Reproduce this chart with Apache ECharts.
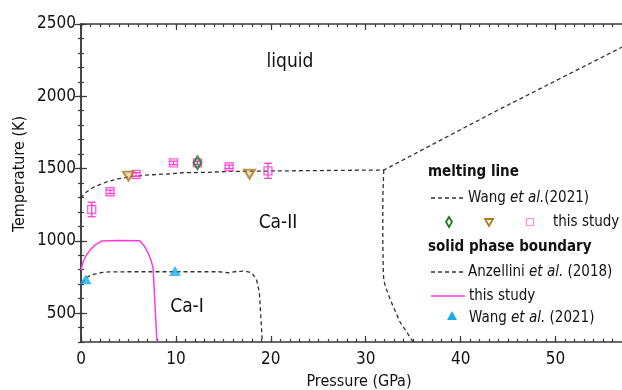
<!DOCTYPE html>
<html><head><meta charset="utf-8">
<script src="https://cdn.jsdelivr.net/npm/echarts@6/dist/echarts.min.js"></script>
<style>html,body{margin:0;padding:0;background:#fff}#c{width:622px;height:390px}</style>
</head><body><div id="c"></div>
<script>
// ---------- data ----------
const xMajorTicks = [0, 10, 20, 30, 40, 50];
const xMinorTicks = [0,1,2,3,4,5,6,7,8,9,10,11,12,13,14,15,16,17,18,19,20,21,22,23,24,25,26,27,28,29,30,31,32,33,34,35,36,37,38,39,40,41,42,43,44,45,46,47,48,49,50,51,52,53,54,55,56,57];
const yMajorTicks = [500, 1000, 1500, 2000, 2500];
const yMinorTicks = [300,400,500,600,700,800,900,1000,1100,1200,1300,1400,1500,1600,1700,1800,1900,2000,2100,2200,2300,2400,2500];

// melting line, Wang et al. (2021)
const meltWang = [[0,1295],[0.4,1330],[1.3,1370],[2.7,1408],[4,1430],[5.2,1443],[6.9,1455],[9,1462],[11,1472],[13,1473],[15.6,1480],[20,1483],[25,1486],[31.9,1490],[32.5,1510],[43.5,1890],[57,2340]];
// solid phase boundary, Anzellini et al. (2018): Ca-I / Ca-II
const anzI = [[0.1,708],[0.5,740],[1,762],[2,779],[3,785],[5,786],[10,786],[14.5,786],[15.5,779],[16.5,789],[17.3,790],[18,779],[18.5,729],[18.8,640],[19.05,360],[19.1,300]];
// solid phase boundary, Anzellini et al. (2018): Ca-II / Ca-III
const anzII = [[31.9,1490],[31.8,1300],[31.8,1000],[31.85,800],[31.9,728],[32.1,680],[32.6,590],[33.6,440],[35.0,300]];
// solid phase boundary, this study
const pinkBoundary = [[0,798],[0.2,850],[0.5,895],[0.95,936],[1.5,972],[2.2,999],[4,1003],[6.2,1000],[6.7,960],[7.07,916],[7.4,860],[7.6,812],[7.8,550],[8.0,300]];
// solid phase boundary points, Wang et al. (2021)
const wangSolidP = [0.5, 9.9];
const wangSolidT = [734, 791];
// melting points, this study (squares)
const meltStudyP = [1.13, 3.06, 5.8, 9.74, 12.27, 15.6, 19.7];
const meltStudyT = [1217, 1339, 1459, 1539, 1539, 1512, 1484];
const meltStudyErr = [50, 12, 12, 12, 12, 12, 52];
// melting points, brown inverted triangles
const meltBrownP = [5.0, 17.75];
const meltBrownT = [1447, 1461];
// melting points, green diamond
const meltGreenP = [12.27];
const meltGreenT = [1540];

// ---------- style ----------
const FONT = "'DejaVu Sans Condensed','Liberation Sans Narrow',sans-serif";
const AX = '#3a3a3a';
const PINK = '#ff3cd6';
const BROWN = '#b07a1e';
const GREEN = '#1f7a1f';
const CYAN = '#17aee8';
const DASH = '#333333';

const zip = (a, b) => a.map((v, i) => [v, b[i]]);

function axisX(pos, major, idx) {
  return {
    type: 'value', gridIndex: idx, position: pos, min: 0, max: 57,
    axisLine: { show: major, lineStyle: { color: AX, width: 1.5 } },
    axisTick: { show: true, inside: true, length: major ? 6 : 3, lineStyle: { color: AX, width: 1.2 },
      customValues: major ? xMajorTicks : xMinorTicks },
    axisLabel: { show: major && pos === 'bottom', customValues: xMajorTicks, margin: 9,
      formatter: v => String(v), fontFamily: FONT, fontSize: 17, color: '#111' },
    splitLine: { show: false }
  };
}
function axisY(pos, major, idx) {
  return {
    type: 'value', gridIndex: idx, position: pos, min: 300, max: 2500,
    axisLine: { show: major, lineStyle: { color: AX, width: 1.5 } },
    axisTick: { show: true, inside: true, length: major ? 6 : 3, lineStyle: { color: AX, width: 1.2 },
      customValues: major ? yMajorTicks : yMinorTicks },
    axisLabel: { show: major && pos === 'left', customValues: yMajorTicks, margin: 5,
      formatter: v => String(v), fontFamily: FONT, fontSize: 17, color: '#111' },
    splitLine: { show: false }
  };
}

const gridBox = { left: 81, right: 0, top: 24, bottom: 48, outerBoundsMode: 'none', containLabel: false };

const dashed = (name, data) => ({
  name, type: 'line', data, xAxisIndex: 0, yAxisIndex: 0, symbol: 'none', silent: true,
  lineStyle: { color: DASH, width: 1.3, type: [4, 3] }, z: 2
});

const chart = echarts.init(document.getElementById('c'), null, { renderer: 'canvas' });

const txt = (x, y, text, opt) => Object.assign({
  type: 'text', x, y,
  style: Object.assign({ text, fontFamily: FONT, fontSize: 15, fill: '#111', textVerticalAlign: 'middle',
    rich: { i: { fontStyle: 'italic', fontFamily: FONT, fontSize: 15, fill: '#111' } } }, opt || {})
});

chart.setOption({
  animation: false,
  backgroundColor: '#fff',
  grid: [Object.assign({}, gridBox), Object.assign({}, gridBox)],
  xAxis: [axisX('bottom', true, 0), axisX('top', true, 0), axisX('bottom', false, 1), axisX('top', false, 1)],
  yAxis: [axisY('left', true, 0), axisY('right', true, 0), axisY('left', false, 1), axisY('right', false, 1)],
  series: [
    dashed('meltWang', meltWang),
    dashed('anzI', anzI),
    dashed('anzII', anzII),
    { name: 'pinkBoundary', type: 'line', data: pinkBoundary, xAxisIndex: 0, yAxisIndex: 0, symbol: 'none',
      lineStyle: { color: PINK, width: 1.5 }, z: 2 },
    { name: 'wangSolid', type: 'scatter', data: zip(wangSolidP, wangSolidT), xAxisIndex: 0, yAxisIndex: 0,
      symbol: 'triangle', symbolSize: [12, 10], itemStyle: { color: CYAN }, z: 4 },
    { name: 'errBars', type: 'custom', xAxisIndex: 0, yAxisIndex: 0, z: 3,
      data: meltStudyP.map((p, i) => [p, meltStudyT[i], meltStudyErr[i]]),
      encode: { x: 0, y: 1 },
      renderItem: function (params, api) {
        const x = api.value(0), y = api.value(1), e = api.value(2);
        const t = api.coord([x, y + e]), b = api.coord([x, y - e]);
        const hw = 4;
        const st = { stroke: PINK, lineWidth: 1.3 };
        return { type: 'group', children: [
          { type: 'line', shape: { x1: t[0], y1: t[1], x2: b[0], y2: b[1] }, style: st },
          { type: 'line', shape: { x1: t[0] - hw, y1: t[1], x2: t[0] + hw, y2: t[1] }, style: st },
          { type: 'line', shape: { x1: b[0] - hw, y1: b[1], x2: b[0] + hw, y2: b[1] }, style: st }
        ] };
      } },
    { name: 'meltStudy', type: 'scatter', data: zip(meltStudyP, meltStudyT), xAxisIndex: 0, yAxisIndex: 0,
      symbol: 'rect', symbolSize: 8, itemStyle: { color: 'rgba(0,0,0,0)', borderColor: PINK, borderWidth: 1.4 }, z: 4 },
    { name: 'meltBrown', type: 'scatter', data: zip(meltBrownP, meltBrownT), xAxisIndex: 0, yAxisIndex: 0,
      symbol: 'triangle', symbolRotate: 180, symbolSize: [11, 9],
      itemStyle: { color: 'rgba(176,122,30,0.35)', borderColor: BROWN, borderWidth: 2 }, z: 5 },
    { name: 'meltGreen', type: 'scatter', data: zip(meltGreenP, meltGreenT), xAxisIndex: 0, yAxisIndex: 0,
      symbol: 'diamond', symbolSize: [8, 13],
      itemStyle: { color: 'rgba(31,122,31,0.3)', borderColor: GREEN, borderWidth: 2 }, z: 6 }
  ],
  graphic: [
    // axis titles
    txt(359, 382, 'Pressure (GPa)', { fontSize: 16, textAlign: 'center' }),
    Object.assign(txt(20, 174, 'Temperature (K)', { fontSize: 16, textAlign: 'center' }), { rotation: Math.PI / 2 }),
    // phase labels
    txt(290, 62, 'liquid', { fontSize: 19, textAlign: 'center' }),
    txt(278, 223, 'Ca-II', { fontSize: 19, textAlign: 'center' }),
    txt(187, 307, 'Ca-I', { fontSize: 19, textAlign: 'center' }),
    // legend
    txt(428, 172, 'melting line', { fontSize: 15, fontWeight: 'bold' }),
    { type: 'line', shape: { x1: 431, y1: 198, x2: 464, y2: 198 }, style: { stroke: DASH, lineWidth: 1.3, lineDash: [4, 3] } },
    txt(468, 198, 'Wang {i|et al.}(2021)'),
    { type: 'polygon', shape: { points: [[449, 217], [452, 222], [449, 227], [446, 222]] },
      style: { fill: 'rgba(0,0,0,0)', stroke: GREEN, lineWidth: 1.8 } },
    { type: 'polygon', shape: { points: [[485, 219], [493, 219], [489, 226]] },
      style: { fill: 'rgba(0,0,0,0)', stroke: BROWN, lineWidth: 1.8 } },
    { type: 'rect', shape: { x: 526.5, y: 218.5, width: 7, height: 7 },
      style: { fill: 'rgba(0,0,0,0)', stroke: '#ff8ae6', lineWidth: 1.2 } },
    txt(553, 222, 'this study'),
    txt(428, 247, 'solid phase boundary', { fontSize: 15, fontWeight: 'bold' }),
    { type: 'line', shape: { x1: 431, y1: 272, x2: 464, y2: 272 }, style: { stroke: DASH, lineWidth: 1.3, lineDash: [4, 3] } },
    txt(468, 272, 'Anzellini {i|et al.} (2018)'),
    { type: 'line', shape: { x1: 431, y1: 296, x2: 465, y2: 296 }, style: { stroke: PINK, lineWidth: 1.5 } },
    txt(469, 296, 'this study'),
    { type: 'polygon', shape: { points: [[452, 311], [457, 320], [447, 320]] }, style: { fill: CYAN } },
    txt(469, 318, 'Wang {i|et al.} (2021)')
  ]
});
</script>
</body></html>
